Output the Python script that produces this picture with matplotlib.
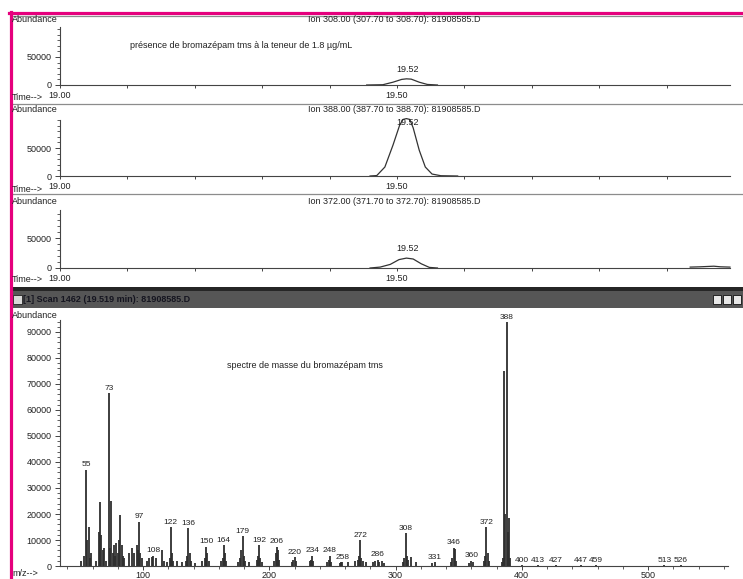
import matplotlib
matplotlib.use("Agg")
import matplotlib.pyplot as plt
from matplotlib.patches import Rectangle
from matplotlib.ticker import MultipleLocator, FixedLocator

plt.rcParams['font.family'] = ['Liberation Sans', 'DejaVu Sans']

# ---------------- data ----------------
ion_titles = ["Ion 308.00 (307.70 to 308.70): 81908585.D",
              "Ion 388.00 (387.70 to 388.70): 81908585.D",
              "Ion 372.00 (371.70 to 372.70): 81908585.D"]

t_ion308 = [19.455, 19.479, 19.494, 19.507, 19.514, 19.521, 19.533, 19.545, 19.560]
a_ion308 = [0, 500, 5000, 10000, 11000, 10500, 5000, 1000, 0]

t_ion388 = [19.460, 19.470, 19.482, 19.494, 19.504, 19.509, 19.514, 19.519,
            19.524, 19.533, 19.542, 19.552, 19.565, 19.590]
a_ion388 = [0, 800, 16000, 55000, 91000, 101000, 102500, 101000,
            86000, 46000, 16000, 3500, 500, 0]

t_ion372 = [19.460, 19.475, 19.490, 19.503, 19.514, 19.524, 19.536, 19.548, 19.560]
a_ion372 = [0, 1500, 6000, 14000, 16500, 15000, 7000, 1000, 0]
t_ion372b = [19.935, 19.950, 19.960, 19.970, 19.980, 19.994]
a_ion372b = [1500, 2000, 2500, 3000, 2000, 1500]

peak_rt = 19.52

mz = [51, 53, 55, 56, 57, 58, 59, 63, 65, 66, 67, 68, 69, 71, 73, 74, 75, 76, 77, 78,
      79, 80, 81, 82, 83, 84, 85, 89, 91, 93, 95, 96, 97, 98, 99, 103, 105, 107, 108,
      110, 115, 117, 119, 121, 122, 123, 124, 127, 131, 134, 135, 136, 137, 138, 141,
      147, 149, 150, 151, 152, 162, 163, 164, 165, 166, 175, 177, 178, 179, 180, 181,
      184, 190, 191, 192, 193, 194, 204, 205, 206, 207, 208, 218, 219, 220, 221, 232,
      233, 234, 235, 246, 247, 248, 249, 256, 257, 258, 262, 268, 270, 271, 272, 273,
      274, 277, 282, 284, 286, 287, 289, 291, 306, 307, 308, 309, 310, 312, 316, 329,
      331, 344, 345, 346, 347, 348, 358, 360, 361, 370, 371, 372, 373, 374, 384, 385,
      386, 387, 388, 389, 390, 391, 400, 413, 427, 447, 459, 513, 526]
abund = [2000, 4000, 37000, 10000, 15000, 3000, 5000, 2000, 13000, 24500, 12000, 6000,
         7000, 2000, 66500, 7000, 25000, 5000, 8000, 4000,
         9000, 5000, 10000, 19500, 8000, 4000, 3000, 5000, 7000, 5000, 8000, 6000, 17000,
         5000, 3000, 2000, 3000, 3500, 4000,
         3000, 6000, 2000, 1500, 3000, 15000, 5000, 2000, 2000, 1500, 2000, 4000, 14500,
         5000, 2000, 1000,
         2000, 3000, 7500, 5000, 2000, 2000, 3000, 8000, 5000, 2000, 1500, 3000, 6000,
         11500, 4000, 2000,
         1500, 2500, 4000, 8000, 3000, 1500, 2000, 5000, 7500, 6000, 2500, 1500, 2500,
         3500, 2000, 2000,
         2500, 4000, 2000, 1500, 2500, 4000, 1500, 1000, 1500, 1500, 1500, 2000, 2500,
         4000, 10000, 3000,
         2000, 1500, 1500, 2000, 2500, 1500, 2000, 1000, 1500, 3000, 12700, 4000, 2500,
         3500, 1500, 1000,
         1500, 1500, 3000, 7000, 6500, 2000, 1000, 2000, 1500, 2000, 4000, 15000, 5000,
         2000, 1500, 3000,
         75000, 20000, 93800, 13000, 18500, 3000, 400, 300, 300, 300, 300, 300, 400]

labelled_mz = [55, 73, 97, 108, 122, 136, 150, 164, 179, 192, 206, 220, 234, 248, 258,
               272, 286, 308, 331, 346, 360, 372, 388, 400, 413, 427, 447, 459, 513, 526]

# ---------------- layout helpers ----------------
W, H = 743, 579
FS = 6.5
FS_PK = 6.0
fig = plt.figure(figsize=(W / 100, H / 100), dpi=100)
fig.patch.set_facecolor('white')


def rect(x0, y0, x1, y1):
    return [x0 / W, 1 - y1 / H, (x1 - x0) / W, (y1 - y0) / H]


def ftext(x, y, s, **kw):
    kw.setdefault('fontsize', FS)
    kw.setdefault('color', '#222222')
    fig.text(x / W, 1 - y / H, s, **kw)


def hline(y, x0, x1, color, lw):
    fig.add_artist(plt.Line2D([x0 / W, x1 / W], [1 - y / H, 1 - y / H],
                              color=color, lw=lw, transform=fig.transFigure))


def vline(x, y0, y1, color, lw):
    fig.add_artist(plt.Line2D([x / W, x / W], [1 - y0 / H, 1 - y1 / H],
                              color=color, lw=lw, transform=fig.transFigure))


# ---------------- chromatogram panels ----------------
# (zero px, 50000 px, top px, header y, time-label y)
panels = [(85, 57, 27, 19, 97), (176, 148, 120, 110, 189), (268, 238, 210, 202, 280)]
traces = [[(t_ion308, a_ion308)], [(t_ion388, a_ion388)],
          [(t_ion372, a_ion372), (t_ion372b, a_ion372b)]]
label_off = [7, -3, 7]

x_left, x_right = 60, 730
t0 = 19.0
t1 = t0 + (x_right - x_left) / 674.0

for i, (zero, fifty, top, hy, ty) in enumerate(panels):
    ymax = (zero - top) / (zero - fifty) * 50000
    ax = fig.add_axes(rect(x_left, top, x_right, zero))
    ax.set_xlim(t0, t1)
    ax.set_ylim(0, ymax)
    ax.patch.set_alpha(0)
    for s in ['top', 'right']:
        ax.spines[s].set_visible(False)
    for s in ['left', 'bottom']:
        ax.spines[s].set_color('#444444')
        ax.spines[s].set_linewidth(0.8)
    ticks = [19.0 + 0.1 * k for k in range(10)]
    ax.xaxis.set_major_locator(FixedLocator(ticks))
    ax.set_xticklabels(['19.00' if k == 0 else ('19.50' if k == 5 else '') for k in range(10)])
    ax.yaxis.set_major_locator(FixedLocator([0, 50000]))
    ax.yaxis.set_minor_locator(MultipleLocator(10000))
    ax.set_yticklabels(['0', '50000'])
    ax.tick_params(axis='x', which='major', direction='out', length=2.5, width=0.7,
                   pad=1.5, labelsize=FS, colors='#444444', labelcolor='#222222')
    ax.tick_params(axis='y', which='major', direction='out', length=3.5, width=0.7,
                   pad=2.5, labelsize=FS, colors='#444444', labelcolor='#222222')
    ax.tick_params(axis='y', which='minor', direction='out', length=2, width=0.6,
                   colors='#444444')
    for tt, aa in traces[i]:
        ax.plot(tt, aa, color='#333333', lw=0.9, clip_on=False)
    pk = max(traces[i][0][1])
    ax.annotate(f"{peak_rt:.2f}", (peak_rt - 0.004, pk), xytext=(0, label_off[i]),
                textcoords='offset points', ha='center', va='center', fontsize=FS,
                color='#222222', annotation_clip=False)
    ftext(12, hy, "Abundance", va='center', ha='left')
    ftext(394, hy, ion_titles[i], va='center', ha='center')
    ftext(12, ty, "Time-->", va='center', ha='left')

ftext(130, 46, "présence de bromazépam tms à la teneur de 1.8 µg/mL", va='center', ha='left')

# separators
for y in [15.5, 103.5, 193.5]:
    hline(y, 12, 743, '#8c8c8c', 0.9)

# ---------------- title bar ----------------
fig.add_artist(Rectangle((12 / W, 1 - 308 / H), (743 - 12) / W, 21 / H,
                         transform=fig.transFigure, facecolor='#565656', edgecolor='none'))
fig.add_artist(Rectangle((12 / W, 1 - 291 / H), (743 - 12) / W, 4 / H,
                         transform=fig.transFigure, facecolor='#262626', edgecolor='none'))
fig.add_artist(Rectangle((13 / W, 1 - 304 / H), 9 / W, 9 / H,
                         transform=fig.transFigure, facecolor='#d8d8d8', edgecolor='#222222', lw=0.6))
ftext(23, 299.5, "[1] Scan 1462 (19.519 min): 81908585.D", va='center', ha='left',
      color='#151520', fontsize=FS, fontweight='bold')
for bx in [713, 723, 733]:
    fig.add_artist(Rectangle((bx / W, 1 - 304 / H), 8 / W, 9 / H,
                             transform=fig.transFigure, facecolor='#e8e8e8',
                             edgecolor='#111111', lw=0.6))

# ---------------- mass spectrum ----------------
sx0, sx1, sy_top, sy0 = 60, 728, 320, 566
px_per_mz = 1.2625
mz_lo = 100 - (143 - sx0) / px_per_mz
mz_hi = 100 + (sx1 - 143) / px_per_mz
ymax_s = (sy0 - sy_top) / 26.0 * 10000

axs = fig.add_axes(rect(sx0, sy_top, sx1, sy0))
axs.set_xlim(mz_lo, mz_hi)
axs.set_ylim(0, ymax_s)
axs.patch.set_alpha(0)
for s in ['top', 'right']:
    axs.spines[s].set_visible(False)
for s in ['left', 'bottom']:
    axs.spines[s].set_color('#444444')
    axs.spines[s].set_linewidth(0.8)
axs.vlines(mz, 0, abund, color='#2e2e2e', lw=1.3)
for m in labelled_mz:
    h = abund[mz.index(m)]
    axs.annotate(str(m), (m, h), xytext=(0, 1.0), textcoords='offset points',
                 ha='center', va='bottom', fontsize=FS_PK, color='#222222',
                 annotation_clip=False)
axs.xaxis.set_major_locator(FixedLocator([100, 200, 300, 400, 500]))
axs.xaxis.set_minor_locator(MultipleLocator(20))
axs.yaxis.set_major_locator(MultipleLocator(10000))
axs.yaxis.set_minor_locator(MultipleLocator(2000))
axs.tick_params(axis='x', which='major', direction='out', length=3, width=0.7,
                pad=0.8, labelsize=FS, colors='#444444', labelcolor='#222222')
axs.tick_params(axis='x', which='minor', direction='out', length=2.5, width=0.6,
                colors='#444444')
axs.tick_params(axis='y', which='major', direction='out', length=3.5, width=0.7,
                pad=2.5, labelsize=FS, colors='#444444', labelcolor='#222222')
axs.tick_params(axis='y', which='minor', direction='out', length=2, width=0.6,
                colors='#444444')
axs.set_yticks([0, 10000, 20000, 30000, 40000, 50000, 60000, 70000, 80000, 90000])

ftext(12, 315, "Abundance", va='center', ha='left')
ftext(305, 365, "spectre de masse du bromazépam tms", va='center', ha='center')
ftext(12, 578, "m/z-->", va='bottom', ha='left')

# ---------------- magenta frame ----------------
hline(12.5, 9, 743, '#e5007d', 2.3)
vline(10.5, 11.5, 579, '#e5007d', 2.3)

fig.savefig("out.png", dpi=100, facecolor='white')
